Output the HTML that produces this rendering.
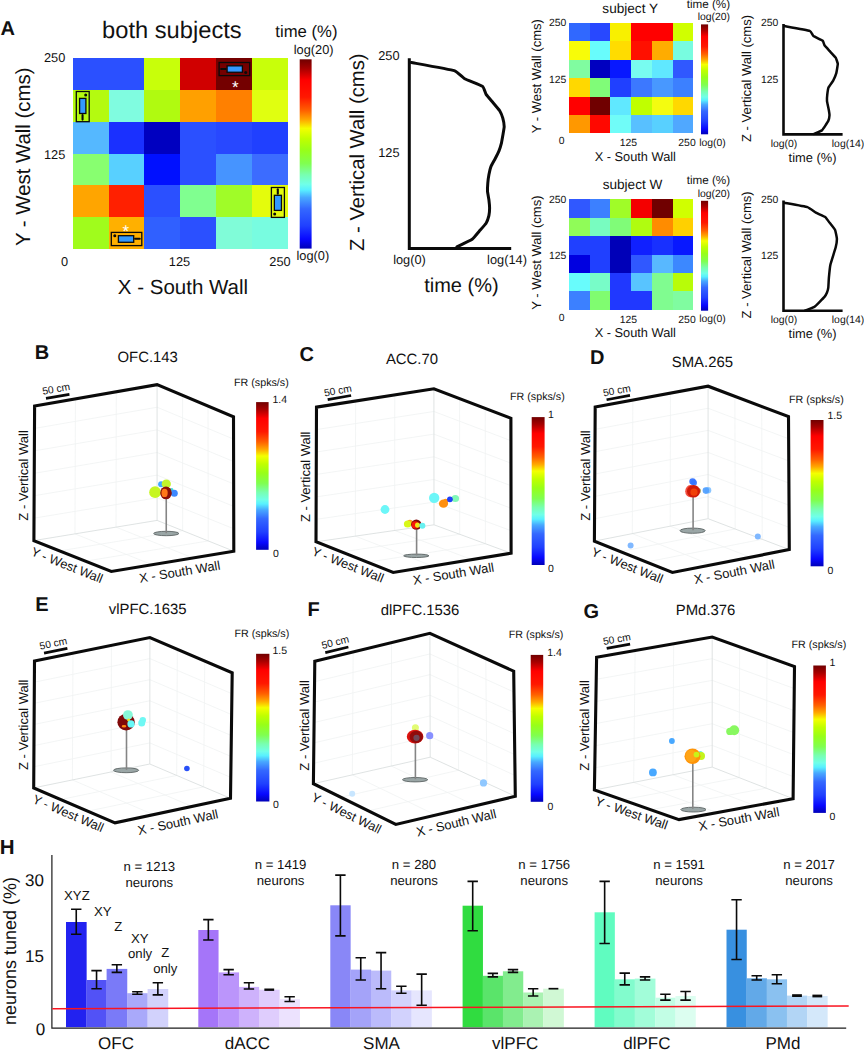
<!DOCTYPE html>
<html lang="en"><head><meta charset="utf-8"><title>Figure: spatial occupancy and tuning</title>
<style>html,body{margin:0;padding:0;background:#fff}svg{display:block}text{font-family:"Liberation Sans", sans-serif;text-rendering:geometricPrecision}</style></head><body>
<svg width="864" height="1050" viewBox="0 0 864 1050">
<defs>
<linearGradient id="jet" x1="0" y1="0" x2="0" y2="1">
<stop offset="0.0000" stop-color="#700000"/>
<stop offset="0.0500" stop-color="#a80000"/>
<stop offset="0.1100" stop-color="#ff0000"/>
<stop offset="0.2000" stop-color="#ff1800"/>
<stop offset="0.2700" stop-color="#ff6000"/>
<stop offset="0.3200" stop-color="#ffa800"/>
<stop offset="0.3650" stop-color="#f4ff00"/>
<stop offset="0.4200" stop-color="#c0ff00"/>
<stop offset="0.4800" stop-color="#98ff18"/>
<stop offset="0.5500" stop-color="#80ff50"/>
<stop offset="0.6100" stop-color="#78ffb0"/>
<stop offset="0.6600" stop-color="#70ffe8"/>
<stop offset="0.6900" stop-color="#58f0ff"/>
<stop offset="0.7300" stop-color="#48a8ff"/>
<stop offset="0.7900" stop-color="#3468ff"/>
<stop offset="0.8800" stop-color="#2040ff"/>
<stop offset="0.9500" stop-color="#0808ff"/>
<stop offset="1.0000" stop-color="#0000b8"/>
</linearGradient>
</defs>
<rect width="864" height="1050" fill="#fff"/>
<g id="panelA">
<text x="7.70" y="35.06" font-size="20" text-anchor="middle" font-weight="bold" fill="#111">A</text>
<g shape-rendering="crispEdges">
<rect x="73" y="58" width="36" height="32" fill="#2b50ff"/>
<rect x="109" y="58" width="35" height="32" fill="#2b50ff"/>
<rect x="144" y="58" width="36" height="32" fill="#c8ff0a"/>
<rect x="180" y="58" width="36" height="32" fill="#d00000"/>
<rect x="216" y="58" width="36" height="32" fill="#740000"/>
<rect x="252" y="58" width="36" height="32" fill="#c8ff0a"/>
<rect x="73" y="90" width="36" height="32" fill="#b4fa10"/>
<rect x="109" y="90" width="35" height="32" fill="#80fce0"/>
<rect x="144" y="90" width="36" height="32" fill="#b0fa10"/>
<rect x="180" y="90" width="36" height="32" fill="#ffa000"/>
<rect x="216" y="90" width="36" height="32" fill="#ff8000"/>
<rect x="252" y="90" width="36" height="32" fill="#e0ff10"/>
<rect x="73" y="122" width="36" height="32" fill="#55b8ff"/>
<rect x="109" y="122" width="35" height="32" fill="#1a30ff"/>
<rect x="144" y="122" width="36" height="32" fill="#0000c0"/>
<rect x="180" y="122" width="36" height="32" fill="#2b50ff"/>
<rect x="216" y="122" width="36" height="32" fill="#2848ff"/>
<rect x="252" y="122" width="36" height="32" fill="#2040ff"/>
<rect x="73" y="154" width="36" height="31" fill="#88ff70"/>
<rect x="109" y="154" width="35" height="31" fill="#58d0ff"/>
<rect x="144" y="154" width="36" height="31" fill="#0010ff"/>
<rect x="180" y="154" width="36" height="31" fill="#2b50ff"/>
<rect x="216" y="154" width="36" height="31" fill="#4694ff"/>
<rect x="252" y="154" width="36" height="31" fill="#3c6cff"/>
<rect x="73" y="185" width="36" height="32" fill="#ffa500"/>
<rect x="109" y="185" width="35" height="32" fill="#ff2000"/>
<rect x="144" y="185" width="36" height="32" fill="#2b50ff"/>
<rect x="180" y="185" width="36" height="32" fill="#80ff90"/>
<rect x="216" y="185" width="36" height="32" fill="#a0fc28"/>
<rect x="252" y="185" width="36" height="32" fill="#e4fc0c"/>
<rect x="73" y="217" width="36" height="32" fill="#a0fc1c"/>
<rect x="109" y="217" width="35" height="32" fill="#ffb000"/>
<rect x="144" y="217" width="36" height="32" fill="#3060ff"/>
<rect x="180" y="217" width="36" height="32" fill="#2b50ff"/>
<rect x="216" y="217" width="36" height="32" fill="#80fcd8"/>
<rect x="252" y="217" width="36" height="32" fill="#78fce0"/>
</g>
<text x="171.90" y="38.48" font-size="23.7" text-anchor="middle" fill="#111">both subjects</text>
<text x="306.40" y="36.98" font-size="16.7" text-anchor="middle" fill="#111">time (%)</text>
<text x="313.70" y="54.48" font-size="12.8" text-anchor="middle" fill="#111">log(20)</text>
<text x="312.80" y="260.18" font-size="12.8" text-anchor="middle" fill="#111">log(0)</text>
<rect x="299.7" y="59.3" width="11.9" height="189.3" fill="url(#jet)"/>
<text x="65.30" y="61.88" font-size="12.8" text-anchor="end" fill="#111">250</text>
<text x="65.30" y="158.88" font-size="12.8" text-anchor="end" fill="#111">125</text>
<text x="64.50" y="265.58" font-size="12.8" text-anchor="middle" fill="#111">0</text>
<text x="179.50" y="265.58" font-size="12.8" text-anchor="middle" fill="#111">125</text>
<text x="280.00" y="265.58" font-size="12.8" text-anchor="middle" fill="#111">250</text>
<text x="183.00" y="293.94" font-size="20.5" text-anchor="middle" fill="#111">X - South Wall</text>
<text x="23.00" y="164.10" font-size="20.4" text-anchor="middle" fill="#111" transform="rotate(-90.00 23.00 156.80)">Y - West Wall (cms)</text>
<rect x="219.10" y="62.50" width="30.60" height="13.10" fill="none" stroke="#0a0a0a" stroke-width="1.3"/>
<rect x="227.10" y="65.85" width="15.30" height="6.4" fill="#3399ff" stroke="#0a0a0a" stroke-width="1.3"/>
<line x1="221.20" y1="68.95" x2="225.70" y2="68.95" stroke="#0a0a0a" stroke-width="2.1" stroke-linecap="round"/>
<circle cx="245.70" cy="72.40" r="1.5" fill="#0a0a0a"/>
<rect x="76.30" y="91.50" width="12.90" height="30.20" fill="none" stroke="#0a0a0a" stroke-width="1.3"/>
<rect x="79.60" y="98.40" width="6.3" height="15.10" fill="#3399ff" stroke="#0a0a0a" stroke-width="1.3"/>
<line x1="82.55" y1="115.10" x2="82.55" y2="119.60" stroke="#0a0a0a" stroke-width="2.1" stroke-linecap="round"/>
<circle cx="85.70" cy="94.90" r="1.5" fill="#0a0a0a"/>
<rect x="111.30" y="232.40" width="30.50" height="13.20" fill="none" stroke="#0a0a0a" stroke-width="1.3"/>
<rect x="118.40" y="235.70" width="15.30" height="6.6" fill="#3399ff" stroke="#0a0a0a" stroke-width="1.3"/>
<line x1="135.10" y1="238.80" x2="139.70" y2="238.80" stroke="#0a0a0a" stroke-width="2.1" stroke-linecap="round"/>
<circle cx="114.80" cy="235.80" r="1.5" fill="#0a0a0a"/>
<rect x="271.40" y="187.50" width="13.00" height="29.90" fill="none" stroke="#0a0a0a" stroke-width="1.3"/>
<rect x="274.35" y="195.30" width="7.1" height="15.10" fill="#3399ff" stroke="#0a0a0a" stroke-width="1.3"/>
<line x1="277.80" y1="189.20" x2="277.80" y2="193.80" stroke="#0a0a0a" stroke-width="2.1" stroke-linecap="round"/>
<circle cx="274.70" cy="213.90" r="1.5" fill="#0a0a0a"/>
<text x="235.3" y="92.6" font-size="17" text-anchor="middle" fill="#fff">*</text>
<text x="125.8" y="236.5" font-size="17" text-anchor="middle" fill="#fff">*</text>
<path d="M409.30 58.30 L409.30 248.60 L511.20 248.60" fill="none" stroke="#0a0a0a" stroke-width="3.0" stroke-linejoin="miter" stroke-linecap="butt"/>
<path d="M411.40 62.50 C413.54 62.91 451.54 69.79 454.20 70.60 C456.86 71.41 463.18 77.91 464.60 78.70 C466.02 79.49 481.53 85.62 482.60 86.40 C483.68 87.19 485.59 93.59 486.10 94.40 C486.62 95.21 492.22 101.69 492.90 102.50 C493.58 103.31 499.20 109.92 499.70 110.70 C500.19 111.48 502.57 117.30 502.80 118.10 C503.03 118.90 504.19 125.86 504.20 126.70 C504.20 127.55 503.03 134.19 502.90 135.00 C502.76 135.81 501.70 142.00 501.50 142.80 C501.30 143.61 499.22 150.29 498.90 151.10 C498.57 151.91 495.39 158.24 495.00 159.00 C494.61 159.76 491.31 165.62 491.00 166.40 C490.69 167.19 489.06 173.86 488.90 174.70 C488.74 175.53 487.87 182.26 487.80 183.10 C487.73 183.94 487.44 190.57 487.50 191.40 C487.56 192.23 488.79 198.86 488.90 199.70 C489.00 200.53 489.60 207.30 489.60 208.10 C489.60 208.90 489.07 214.94 488.90 215.70 C488.72 216.46 486.59 222.52 486.10 223.30 C485.62 224.08 479.89 230.50 479.20 231.30 C478.50 232.10 473.31 238.52 472.20 239.30 C471.08 240.08 457.66 246.52 456.90 246.90" fill="none" stroke="#0a0a0a" stroke-width="3.0" stroke-linejoin="round" stroke-linecap="round"/>
<text x="399.60" y="59.58" font-size="12.8" text-anchor="end" fill="#111">250</text>
<text x="399.60" y="156.88" font-size="12.8" text-anchor="end" fill="#111">125</text>
<text x="409.50" y="264.18" font-size="12.8" text-anchor="middle" fill="#111">log(0)</text>
<text x="507.00" y="264.18" font-size="12.8" text-anchor="middle" fill="#111">log(14)</text>
<text x="461.40" y="292.16" font-size="20" text-anchor="middle" fill="#111">time (%)</text>
<text x="356.90" y="159.47" font-size="20.3" text-anchor="middle" fill="#111" transform="rotate(-90.00 356.90 152.20)">Z - Vertical Wall (cms)</text>
<g shape-rendering="crispEdges">
<rect x="569" y="23" width="21" height="18" fill="#3068ff"/>
<rect x="590" y="23" width="20" height="18" fill="#2848ff"/>
<rect x="610" y="23" width="21" height="18" fill="#f8f000"/>
<rect x="631" y="23" width="21" height="18" fill="#ff0000"/>
<rect x="652" y="23" width="21" height="18" fill="#ff0000"/>
<rect x="673" y="23" width="20" height="18" fill="#d0ff00"/>
<rect x="569" y="41" width="21" height="19" fill="#f8fc08"/>
<rect x="590" y="41" width="20" height="19" fill="#68fcfc"/>
<rect x="610" y="41" width="21" height="19" fill="#ffdc00"/>
<rect x="631" y="41" width="21" height="19" fill="#ff1000"/>
<rect x="652" y="41" width="21" height="19" fill="#ffac00"/>
<rect x="673" y="41" width="20" height="19" fill="#78fce0"/>
<rect x="569" y="60" width="21" height="18" fill="#80fca0"/>
<rect x="590" y="60" width="20" height="18" fill="#0000c0"/>
<rect x="610" y="60" width="21" height="18" fill="#0818ff"/>
<rect x="631" y="60" width="21" height="18" fill="#78fcf0"/>
<rect x="652" y="60" width="21" height="18" fill="#60e8ff"/>
<rect x="673" y="60" width="20" height="18" fill="#3058ff"/>
<rect x="569" y="78" width="21" height="19" fill="#ffd800"/>
<rect x="590" y="78" width="20" height="19" fill="#80fc78"/>
<rect x="610" y="78" width="21" height="19" fill="#2040ff"/>
<rect x="631" y="78" width="21" height="19" fill="#3c78ff"/>
<rect x="652" y="78" width="21" height="19" fill="#4898ff"/>
<rect x="673" y="78" width="20" height="19" fill="#3c80ff"/>
<rect x="569" y="97" width="21" height="18" fill="#ff0000"/>
<rect x="590" y="97" width="20" height="18" fill="#700000"/>
<rect x="610" y="97" width="21" height="18" fill="#60e8ff"/>
<rect x="631" y="97" width="21" height="18" fill="#c0ff00"/>
<rect x="652" y="97" width="21" height="18" fill="#f4fc10"/>
<rect x="673" y="97" width="20" height="18" fill="#ffd800"/>
<rect x="569" y="115" width="21" height="18" fill="#ff9800"/>
<rect x="590" y="115" width="20" height="18" fill="#ff0800"/>
<rect x="610" y="115" width="21" height="18" fill="#70fcf8"/>
<rect x="631" y="115" width="21" height="18" fill="#58c0ff"/>
<rect x="652" y="115" width="21" height="18" fill="#58d0ff"/>
<rect x="673" y="115" width="20" height="18" fill="#50a8ff"/>
</g>
<text x="630.20" y="12.77" font-size="13.6" text-anchor="middle" fill="#111">subject Y</text>
<text x="708.40" y="7.89" font-size="11.7" text-anchor="middle" fill="#111">time (%)</text>
<text x="713.90" y="20.32" font-size="10.4" text-anchor="middle" fill="#111">log(20)</text>
<text x="712.50" y="145.72" font-size="10.4" text-anchor="middle" fill="#111">log(0)</text>
<rect x="701.0" y="24.40" width="7.1" height="109.9" fill="url(#jet)"/>
<text x="566.40" y="26.12" font-size="10.4" text-anchor="end" fill="#111">250</text>
<text x="566.40" y="82.72" font-size="10.4" text-anchor="end" fill="#111">125</text>
<text x="561.70" y="144.32" font-size="10.4" text-anchor="middle" fill="#111">0</text>
<text x="628.30" y="146.12" font-size="10.4" text-anchor="middle" fill="#111">125</text>
<text x="687.00" y="146.12" font-size="10.4" text-anchor="middle" fill="#111">250</text>
<text x="635.30" y="160.98" font-size="12.8" text-anchor="middle" fill="#111">X - South Wall</text>
<text x="536.80" y="80.87" font-size="13.05" text-anchor="middle" fill="#111" transform="rotate(-90.00 536.80 76.20)">Y - West Wall (cms)</text>
<path d="M783.50 24.00 L783.50 134.40 L842.60 134.40" fill="none" stroke="#0a0a0a" stroke-width="2.6" stroke-linejoin="miter" stroke-linecap="butt"/>
<path d="M784.30 26.10 C785.57 26.34 808.25 30.40 809.70 30.90 C811.16 31.40 812.75 35.61 813.40 36.10 C814.05 36.59 822.15 40.34 822.70 40.80 C823.25 41.26 824.16 44.79 824.50 45.30 C824.84 45.80 828.94 50.28 829.50 50.90 C830.06 51.52 835.29 57.05 835.70 57.70 C836.12 58.35 837.77 63.12 837.80 63.90 C837.83 64.67 836.53 72.37 836.30 73.20 C836.07 74.03 833.59 79.89 833.20 80.60 C832.81 81.31 828.79 86.72 828.50 87.40 C828.21 88.09 827.38 93.61 827.30 94.30 C827.22 94.98 826.92 100.29 827.00 101.10 C827.08 101.91 828.77 109.69 828.90 110.40 C829.02 111.11 829.53 114.77 829.50 115.30 C829.47 115.83 828.67 120.16 828.30 120.90 C827.93 121.65 822.82 129.55 822.10 130.20 C821.38 130.85 814.40 133.72 814.00 133.90" fill="none" stroke="#0a0a0a" stroke-width="2.5" stroke-linejoin="round" stroke-linecap="round"/>
<text x="778.40" y="26.12" font-size="10.4" text-anchor="end" fill="#111">250</text>
<text x="778.40" y="82.72" font-size="10.4" text-anchor="end" fill="#111">125</text>
<text x="784.00" y="146.72" font-size="10.4" text-anchor="middle" fill="#111">log(0)</text>
<text x="848.00" y="146.72" font-size="10.4" text-anchor="middle" fill="#111">log(14)</text>
<text x="812.60" y="161.62" font-size="12.9" text-anchor="middle" fill="#111">time (%)</text>
<text x="746.40" y="83.17" font-size="13.05" text-anchor="middle" fill="#111" transform="rotate(-90.00 746.40 78.50)">Z - Vertical Wall (cms)</text>
<g shape-rendering="crispEdges">
<rect x="569" y="199" width="21" height="19" fill="#3058ff"/>
<rect x="590" y="199" width="20" height="19" fill="#3c80ff"/>
<rect x="610" y="199" width="21" height="19" fill="#a0fc28"/>
<rect x="631" y="199" width="21" height="19" fill="#f40000"/>
<rect x="652" y="199" width="21" height="19" fill="#700000"/>
<rect x="673" y="199" width="20" height="19" fill="#d0ff00"/>
<rect x="569" y="218" width="21" height="18" fill="#90fc58"/>
<rect x="590" y="218" width="20" height="18" fill="#78fcc0"/>
<rect x="610" y="218" width="21" height="18" fill="#80fc78"/>
<rect x="631" y="218" width="21" height="18" fill="#b0fc10"/>
<rect x="652" y="218" width="21" height="18" fill="#ff8c00"/>
<rect x="673" y="218" width="20" height="18" fill="#ffd000"/>
<rect x="569" y="236" width="21" height="19" fill="#2040ff"/>
<rect x="590" y="236" width="20" height="19" fill="#2040ff"/>
<rect x="610" y="236" width="21" height="19" fill="#0000b8"/>
<rect x="631" y="236" width="21" height="19" fill="#1020ff"/>
<rect x="652" y="236" width="21" height="19" fill="#1830ff"/>
<rect x="673" y="236" width="20" height="19" fill="#0818ff"/>
<rect x="569" y="255" width="21" height="18" fill="#0000e0"/>
<rect x="590" y="255" width="20" height="18" fill="#2040ff"/>
<rect x="610" y="255" width="21" height="18" fill="#0000b8"/>
<rect x="631" y="255" width="21" height="18" fill="#3058ff"/>
<rect x="652" y="255" width="21" height="18" fill="#58b8ff"/>
<rect x="673" y="255" width="20" height="18" fill="#3c88ff"/>
<rect x="569" y="273" width="21" height="18" fill="#68fcfc"/>
<rect x="590" y="273" width="20" height="18" fill="#78fcc8"/>
<rect x="610" y="273" width="21" height="18" fill="#2038ff"/>
<rect x="631" y="273" width="21" height="18" fill="#58c4ff"/>
<rect x="652" y="273" width="21" height="18" fill="#80fc90"/>
<rect x="673" y="273" width="20" height="18" fill="#b8fc08"/>
<rect x="569" y="291" width="21" height="19" fill="#3c80ff"/>
<rect x="590" y="291" width="20" height="19" fill="#80fc70"/>
<rect x="610" y="291" width="21" height="19" fill="#2038ff"/>
<rect x="631" y="291" width="21" height="19" fill="#2038ff"/>
<rect x="652" y="291" width="21" height="19" fill="#80fc90"/>
<rect x="673" y="291" width="20" height="19" fill="#80fca0"/>
</g>
<text x="632.50" y="189.17" font-size="13.6" text-anchor="middle" fill="#111">subject W</text>
<text x="708.40" y="184.29" font-size="11.7" text-anchor="middle" fill="#111">time (%)</text>
<text x="713.90" y="196.72" font-size="10.4" text-anchor="middle" fill="#111">log(20)</text>
<text x="712.50" y="322.12" font-size="10.4" text-anchor="middle" fill="#111">log(0)</text>
<rect x="701.0" y="200.80" width="7.1" height="109.9" fill="url(#jet)"/>
<text x="566.40" y="202.52" font-size="10.4" text-anchor="end" fill="#111">250</text>
<text x="566.40" y="259.12" font-size="10.4" text-anchor="end" fill="#111">125</text>
<text x="561.70" y="320.72" font-size="10.4" text-anchor="middle" fill="#111">0</text>
<text x="628.30" y="322.52" font-size="10.4" text-anchor="middle" fill="#111">125</text>
<text x="687.00" y="322.52" font-size="10.4" text-anchor="middle" fill="#111">250</text>
<text x="635.30" y="337.38" font-size="12.8" text-anchor="middle" fill="#111">X - South Wall</text>
<text x="536.80" y="257.27" font-size="13.05" text-anchor="middle" fill="#111" transform="rotate(-90.00 536.80 252.60)">Y - West Wall (cms)</text>
<path d="M783.50 200.40 L783.50 310.80 L842.60 310.80" fill="none" stroke="#0a0a0a" stroke-width="2.6" stroke-linejoin="miter" stroke-linecap="butt"/>
<path d="M784.30 202.80 C785.45 203.02 805.82 206.60 807.40 207.10 C808.98 207.59 815.01 212.20 815.90 212.70 C816.79 213.19 824.52 216.50 825.20 217.00 C825.88 217.50 829.00 221.95 829.50 222.60 C830.00 223.25 834.73 229.19 835.10 230.00 C835.47 230.81 836.87 237.83 836.90 238.70 C836.93 239.56 836.03 246.00 835.70 247.30 C835.38 248.60 830.74 263.18 830.40 264.70 C830.06 266.22 829.00 276.56 828.90 277.70 C828.79 278.84 828.39 286.86 828.30 287.60 C828.20 288.34 827.19 292.04 827.00 292.50 C826.81 292.96 825.12 296.19 824.50 296.90 C823.88 297.61 815.56 306.12 814.60 306.80 C813.64 307.48 805.76 310.31 805.30 310.50" fill="none" stroke="#0a0a0a" stroke-width="2.5" stroke-linejoin="round" stroke-linecap="round"/>
<text x="778.40" y="202.52" font-size="10.4" text-anchor="end" fill="#111">250</text>
<text x="778.40" y="259.12" font-size="10.4" text-anchor="end" fill="#111">125</text>
<text x="784.00" y="323.12" font-size="10.4" text-anchor="middle" fill="#111">log(0)</text>
<text x="848.00" y="323.12" font-size="10.4" text-anchor="middle" fill="#111">log(14)</text>
<text x="812.60" y="338.02" font-size="12.9" text-anchor="middle" fill="#111">time (%)</text>
<text x="746.40" y="259.57" font-size="13.05" text-anchor="middle" fill="#111" transform="rotate(-90.00 746.40 254.90)">Z - Vertical Wall (cms)</text>
</g>
<g id="panelB">
<path d="M75.43 398.87 L74.97 533.87 M116.27 391.73 L116.03 527.13 M34.48 428.43 L157.10 407.23 M34.37 450.87 L157.10 429.87 M34.25 473.30 L157.10 452.50 M34.13 495.73 L157.10 475.13 M34.02 518.17 L157.10 497.77 M182.57 395.30 L182.67 530.67 M208.03 406.00 L208.23 540.93 M157.10 407.23 L233.55 439.12 M157.10 429.87 L233.60 461.53 M157.10 452.50 L233.65 483.95 M157.10 475.13 L233.70 506.37 M157.10 497.77 L233.75 528.78 M74.97 533.87 L152.13 564.73 M59.70 550.90 L182.67 530.67 M116.03 527.13 L192.97 557.97 M85.50 561.20 L208.23 540.93" stroke="#f0f3f3" stroke-width="0.8" fill="none"/>
<path d="M157.10 384.60 L157.10 520.40 M33.90 540.60 L157.10 520.40 L233.80 551.20" stroke="#dbe0e0" stroke-width="0.9" fill="none"/>
<ellipse cx="166.25" cy="533.50" rx="12.6" ry="2.2" fill="#9aa6a6" stroke="#5c6464" stroke-width="0.9"/>
<line x1="166.25" y1="498.50" x2="166.25" y2="533.20" stroke="#858585" stroke-width="1.6"/>
<ellipse cx="155.10" cy="492.20" rx="5.90" ry="5.90" fill="#c6f622"/>
<ellipse cx="161.10" cy="484.30" rx="3.00" ry="3.00" fill="#40a8ff"/>
<ellipse cx="166.30" cy="483.90" rx="4.60" ry="4.50" fill="#c2f42a"/>
<ellipse cx="171.80" cy="489.60" rx="1.60" ry="1.60" fill="#40dce0"/>
<ellipse cx="174.30" cy="493.30" rx="3.50" ry="3.50" fill="#3c88ff"/>
<ellipse cx="166.00" cy="492.90" rx="5.80" ry="6.40" fill="#8a1008"/>
<ellipse cx="164.60" cy="492.90" rx="3.10" ry="4.20" fill="#ff7818"/>
<path d="M34.60 406.00 L157.10 384.60 L233.50 416.70 L233.80 551.20 L111.30 571.50 L33.90 540.60 Z" fill="none" stroke="#0a0a0a" stroke-width="3.1" stroke-linejoin="miter" stroke-linecap="butt"/>
<line x1="45.98" y1="398.40" x2="69.42" y2="394.30" stroke="#0a0a0a" stroke-width="2.7"/>
<text x="56.10" y="392.29" font-size="10.3" text-anchor="middle" fill="#111" transform="rotate(-9.91 56.10 388.60)">50 cm</text>
<text x="23.20" y="480.05" font-size="13.0" text-anchor="middle" fill="#111" transform="rotate(-90.00 23.20 475.40)">Z - Vertical Wall</text>
<text x="67.10" y="569.45" font-size="12.7" text-anchor="middle" fill="#111" transform="rotate(21.76 67.10 564.90)">Y - West Wall</text>
<text x="179.60" y="576.22" font-size="12.9" text-anchor="middle" fill="#111" transform="rotate(-9.41 179.60 571.60)">X - South Wall</text>
<text x="147.70" y="362.33" font-size="14.9" text-anchor="middle" fill="#111">OFC.143</text>
<text x="42.00" y="358.96" font-size="20" text-anchor="middle" font-weight="bold" fill="#111">B</text>
<rect x="256.10" y="402.10" width="12.50" height="147.70" fill="url(#jet)"/>
<text x="261.40" y="385.83" font-size="10.7" text-anchor="middle" fill="#111">FR (spks/s)</text>
<text x="272.40" y="403.16" font-size="10.5" text-anchor="start" fill="#111">1.4</text>
<text x="273.00" y="556.96" font-size="10.5" text-anchor="start" fill="#111">0</text>
</g>
<g id="panelC">
<path d="M355.63 401.00 L355.33 536.13 M394.77 394.90 L394.67 530.47 M316.42 429.55 L433.92 411.47 M316.33 452.00 L433.93 434.13 M316.25 474.45 L433.95 456.80 M316.17 496.90 L433.97 479.47 M316.08 519.35 L433.98 502.13 M459.57 398.60 L459.70 534.27 M485.23 408.40 L485.40 543.73 M433.92 411.47 L510.93 440.70 M433.93 434.13 L510.97 463.20 M433.95 456.80 L511.00 485.70 M433.97 479.47 L511.03 508.20 M433.98 502.13 L511.07 530.70 M355.33 536.13 L432.50 566.07 M341.73 552.03 L459.70 534.27 M394.67 530.47 L471.80 559.63 M367.47 562.27 L485.40 543.73" stroke="#f0f3f3" stroke-width="0.8" fill="none"/>
<path d="M433.90 388.80 L434.00 524.80 M316.00 541.80 L434.00 524.80 L511.10 553.20" stroke="#dbe0e0" stroke-width="0.9" fill="none"/>
<ellipse cx="416.30" cy="555.80" rx="12.6" ry="1.7" fill="#9aa6a6" stroke="#5c6464" stroke-width="0.9"/>
<line x1="416.60" y1="529.50" x2="416.60" y2="555.40" stroke="#858585" stroke-width="1.6"/>
<ellipse cx="385.00" cy="509.50" rx="4.40" ry="4.40" fill="#6cf6f8"/>
<ellipse cx="434.20" cy="497.90" rx="5.20" ry="5.20" fill="#6cf6f8"/>
<ellipse cx="455.30" cy="498.50" rx="3.80" ry="3.50" fill="#80f8b8"/>
<ellipse cx="443.50" cy="503.70" rx="4.60" ry="4.10" fill="#ff9010"/>
<ellipse cx="445.60" cy="501.20" rx="2.40" ry="2.40" fill="#ff9010"/>
<ellipse cx="449.90" cy="499.30" rx="2.90" ry="2.90" fill="#2040f8"/>
<ellipse cx="409.90" cy="522.80" rx="3.00" ry="3.00" fill="#ffa020"/>
<ellipse cx="407.60" cy="524.00" rx="3.70" ry="3.50" fill="#d8f818"/>
<ellipse cx="416.30" cy="524.60" rx="5.20" ry="5.20" fill="#800808"/>
<ellipse cx="415.10" cy="524.90" rx="3.50" ry="3.60" fill="#f81808"/>
<ellipse cx="417.50" cy="525.10" rx="2.50" ry="2.60" fill="#f0e818"/>
<ellipse cx="422.40" cy="525.70" rx="3.00" ry="3.00" fill="#68f0f0"/>
<path d="M316.50 407.10 L433.90 388.80 L510.90 418.20 L511.10 553.20 L393.20 572.50 L316.00 541.80 Z" fill="none" stroke="#0a0a0a" stroke-width="3.1" stroke-linejoin="miter" stroke-linecap="butt"/>
<line x1="327.68" y1="399.64" x2="351.12" y2="395.46" stroke="#0a0a0a" stroke-width="2.7"/>
<text x="337.80" y="393.99" font-size="10.3" text-anchor="middle" fill="#111" transform="rotate(-10.10 337.80 390.30)">50 cm</text>
<text x="304.90" y="481.45" font-size="13.0" text-anchor="middle" fill="#111" transform="rotate(-90.00 304.90 476.80)">Z - Vertical Wall</text>
<text x="348.00" y="569.05" font-size="12.7" text-anchor="middle" fill="#111" transform="rotate(21.69 348.00 564.50)">Y - West Wall</text>
<text x="453.40" y="578.12" font-size="12.9" text-anchor="middle" fill="#111" transform="rotate(-9.30 453.40 573.50)">X - South Wall</text>
<text x="412.00" y="364.33" font-size="14.9" text-anchor="middle" fill="#111">ACC.70</text>
<text x="306.80" y="361.16" font-size="20" text-anchor="middle" font-weight="bold" fill="#111">C</text>
<rect x="531.70" y="417.10" width="12.90" height="147.90" fill="url(#jet)"/>
<text x="537.40" y="400.13" font-size="10.7" text-anchor="middle" fill="#111">FR (spks/s)</text>
<text x="548.00" y="417.76" font-size="10.5" text-anchor="start" fill="#111">1</text>
<text x="548.00" y="571.76" font-size="10.5" text-anchor="start" fill="#111">0</text>
</g>
<g id="panelD">
<path d="M632.83 400.07 L632.30 533.63 M670.47 393.13 L670.20 526.17 M595.07 429.35 L708.10 408.28 M594.93 451.70 L708.10 430.37 M594.80 474.05 L708.10 452.45 M594.67 496.40 L708.10 474.53 M594.53 518.75 L708.10 496.62 M734.90 396.33 L735.17 529.00 M761.70 406.47 L762.23 539.30 M708.10 408.28 L788.63 438.77 M708.10 430.37 L788.77 460.93 M708.10 452.45 L788.90 483.10 M708.10 474.53 L789.03 505.27 M708.10 496.62 L789.17 527.43 M632.30 533.63 L711.37 564.87 M620.40 551.57 L735.17 529.00 M670.20 526.17 L750.33 557.23 M646.40 562.03 L762.23 539.30" stroke="#f0f3f3" stroke-width="0.8" fill="none"/>
<path d="M708.10 386.20 L708.10 518.70 M594.40 541.10 L708.10 518.70 L789.30 549.60" stroke="#dbe0e0" stroke-width="0.9" fill="none"/>
<ellipse cx="692.60" cy="530.70" rx="12.6" ry="2.6" fill="#9aa6a6" stroke="#5c6464" stroke-width="0.9"/>
<line x1="693.10" y1="497.00" x2="693.10" y2="530.20" stroke="#858585" stroke-width="1.6"/>
<ellipse cx="692.60" cy="481.50" rx="3.30" ry="3.30" fill="#3070ff" fill-opacity="0.92"/>
<ellipse cx="694.00" cy="482.80" rx="3.00" ry="3.00" fill="#3474ff" fill-opacity="0.9"/>
<ellipse cx="708.00" cy="490.20" rx="3.30" ry="3.30" fill="#80c0ff" fill-opacity="0.9"/>
<ellipse cx="705.90" cy="490.60" rx="3.30" ry="3.30" fill="#50a0ff" fill-opacity="0.92"/>
<ellipse cx="699.30" cy="490.80" rx="1.60" ry="2.60" fill="#8a7a20" fill-opacity="0.8"/>
<ellipse cx="690.40" cy="491.20" rx="5.20" ry="6.10" fill="#f03020" fill-opacity="0.85"/>
<ellipse cx="693.50" cy="491.30" rx="6.50" ry="6.30" fill="#d01a08"/>
<ellipse cx="694.00" cy="492.20" rx="3.60" ry="3.60" fill="#f04008"/>
<ellipse cx="630.60" cy="545.60" rx="3.00" ry="3.00" fill="#80b8ff"/>
<ellipse cx="757.80" cy="536.60" rx="3.00" ry="3.00" fill="#80b8ff"/>
<path d="M595.20 407.00 L708.10 386.20 L788.50 416.60 L789.30 549.60 L672.40 572.50 L594.40 541.10 Z" fill="none" stroke="#0a0a0a" stroke-width="3.1" stroke-linejoin="miter" stroke-linecap="butt"/>
<line x1="606.57" y1="399.71" x2="629.98" y2="395.39" stroke="#0a0a0a" stroke-width="2.7"/>
<text x="616.80" y="393.99" font-size="10.3" text-anchor="middle" fill="#111" transform="rotate(-10.44 616.80 390.30)">50 cm</text>
<text x="585.20" y="480.15" font-size="13.0" text-anchor="middle" fill="#111" transform="rotate(-90.00 585.20 475.50)">Z - Vertical Wall</text>
<text x="627.30" y="569.75" font-size="12.7" text-anchor="middle" fill="#111" transform="rotate(21.93 627.30 565.20)">Y - West Wall</text>
<text x="734.20" y="576.32" font-size="12.9" text-anchor="middle" fill="#111" transform="rotate(-11.08 734.20 571.70)">X - South Wall</text>
<text x="702.40" y="367.43" font-size="14.9" text-anchor="middle" fill="#111">SMA.265</text>
<text x="597.20" y="363.66" font-size="20" text-anchor="middle" font-weight="bold" fill="#111">D</text>
<rect x="810.60" y="420.00" width="12.90" height="146.30" fill="url(#jet)"/>
<text x="816.40" y="402.73" font-size="10.7" text-anchor="middle" fill="#111">FR (spks/s)</text>
<text x="827.40" y="419.26" font-size="10.5" text-anchor="start" fill="#111">1.5</text>
<text x="827.60" y="574.06" font-size="10.5" text-anchor="start" fill="#111">0</text>
</g>
<g id="panelE">
<path d="M72.97 653.17 L72.40 779.93 M111.43 645.33 L111.10 771.97 M34.37 682.15 L149.88 658.58 M34.23 703.30 L149.87 679.67 M34.10 724.45 L149.85 700.75 M33.97 745.60 L149.83 721.83 M33.83 766.75 L149.82 742.92 M177.33 649.27 L176.70 775.43 M204.77 661.03 L203.60 786.87 M149.88 658.58 L231.92 693.72 M149.87 679.67 L231.63 714.63 M149.85 700.75 L231.35 735.55 M149.83 721.83 L231.07 756.47 M149.82 742.92 L230.78 777.38 M72.40 779.93 L153.50 814.63 M60.80 799.53 L176.70 775.43 M111.10 771.97 L192.00 806.47 M87.90 811.17 L203.60 786.87" stroke="#f0f3f3" stroke-width="0.8" fill="none"/>
<path d="M149.90 637.50 L149.80 764.00 M33.70 787.90 L149.80 764.00 L230.50 798.30" stroke="#dbe0e0" stroke-width="0.9" fill="none"/>
<ellipse cx="126.10" cy="770.30" rx="12.6" ry="2.4" fill="#9aa6a6" stroke="#5c6464" stroke-width="0.9"/>
<line x1="126.50" y1="729.50" x2="126.50" y2="769.80" stroke="#858585" stroke-width="1.6"/>
<ellipse cx="126.10" cy="722.20" rx="8.70" ry="8.30" fill="#800808"/>
<ellipse cx="124.00" cy="726.20" rx="2.30" ry="1.30" fill="#ff8810"/>
<ellipse cx="127.90" cy="715.00" rx="4.90" ry="4.80" fill="#88f8d8"/>
<ellipse cx="128.60" cy="719.90" rx="1.50" ry="1.50" fill="#f0e020"/>
<ellipse cx="131.00" cy="723.90" rx="3.60" ry="3.60" fill="#68f8f8"/>
<ellipse cx="142.80" cy="720.10" rx="3.20" ry="3.20" fill="#70f8f4"/>
<ellipse cx="141.70" cy="722.90" rx="3.50" ry="3.50" fill="#70f8f4"/>
<ellipse cx="186.90" cy="768.50" rx="2.80" ry="2.80" fill="#2850f8"/>
<path d="M34.50 661.00 L149.90 637.50 L232.20 672.80 L230.50 798.30 L115.00 822.80 L33.70 787.90 Z" fill="none" stroke="#0a0a0a" stroke-width="3.1" stroke-linejoin="miter" stroke-linecap="butt"/>
<line x1="44.04" y1="653.15" x2="67.36" y2="648.40" stroke="#0a0a0a" stroke-width="2.7"/>
<text x="53.30" y="646.99" font-size="10.3" text-anchor="middle" fill="#111" transform="rotate(-11.51 53.30 643.30)">50 cm</text>
<text x="23.00" y="729.45" font-size="13.0" text-anchor="middle" fill="#111" transform="rotate(-90.00 23.00 724.80)">Z - Vertical Wall</text>
<text x="68.30" y="817.75" font-size="12.7" text-anchor="middle" fill="#111" transform="rotate(23.23 68.30 813.20)">Y - West Wall</text>
<text x="177.90" y="826.72" font-size="12.9" text-anchor="middle" fill="#111" transform="rotate(-11.98 177.90 822.10)">X - South Wall</text>
<text x="147.70" y="613.83" font-size="14.9" text-anchor="middle" fill="#111">vlPFC.1635</text>
<text x="42.00" y="610.96" font-size="20" text-anchor="middle" font-weight="bold" fill="#111">E</text>
<rect x="256.10" y="653.80" width="13.30" height="147.70" fill="url(#jet)"/>
<text x="261.90" y="636.83" font-size="10.7" text-anchor="middle" fill="#111">FR (spks/s)</text>
<text x="272.40" y="654.16" font-size="10.5" text-anchor="start" fill="#111">1.5</text>
<text x="273.00" y="807.96" font-size="10.5" text-anchor="start" fill="#111">0</text>
</g>
<g id="panelF">
<path d="M353.17 651.97 L352.33 774.87 M391.53 642.63 L391.27 766.03 M314.57 681.70 L429.95 653.95 M314.33 702.10 L430.00 674.60 M314.10 722.50 L430.05 695.25 M313.87 742.90 L430.10 715.90 M313.63 763.30 L430.15 736.55 M457.83 645.93 L458.57 770.23 M485.77 658.57 L486.93 783.27 M429.95 653.95 L513.97 692.05 M430.00 674.60 L514.23 712.90 M430.05 695.25 L514.50 733.75 M430.10 715.90 L514.77 754.60 M430.15 736.55 L515.03 775.45 M352.33 774.87 L435.63 815.03 M340.87 797.27 L458.57 770.23 M391.27 766.03 L475.47 805.67 M368.33 810.83 L486.93 783.27" stroke="#f0f3f3" stroke-width="0.8" fill="none"/>
<path d="M429.90 633.30 L430.20 757.20 M313.40 783.70 L430.20 757.20 L515.30 796.30" stroke="#dbe0e0" stroke-width="0.9" fill="none"/>
<ellipse cx="415.10" cy="779.70" rx="12.6" ry="2.2" fill="#9aa6a6" stroke="#5c6464" stroke-width="0.9"/>
<line x1="415.40" y1="742.50" x2="415.40" y2="779.20" stroke="#858585" stroke-width="1.6"/>
<ellipse cx="415.40" cy="727.80" rx="3.50" ry="3.50" fill="#e2fc74"/>
<ellipse cx="415.10" cy="736.70" rx="8.30" ry="6.90" fill="#dc1410"/>
<ellipse cx="416.20" cy="736.90" rx="6.60" ry="6.20" fill="#900c0c"/>
<ellipse cx="416.50" cy="737.80" rx="3.10" ry="3.10" fill="#704858"/>
<ellipse cx="429.70" cy="735.70" rx="3.60" ry="3.60" fill="#8890ff"/>
<ellipse cx="352.20" cy="793.80" rx="3.00" ry="3.00" fill="#c8e6ff"/>
<ellipse cx="483.50" cy="782.90" rx="3.60" ry="3.60" fill="#90c8ff"/>
<path d="M314.80 661.30 L429.90 633.30 L513.70 671.20 L515.30 796.30 L395.80 824.40 L313.40 783.70 Z" fill="none" stroke="#0a0a0a" stroke-width="3.1" stroke-linejoin="miter" stroke-linecap="butt"/>
<line x1="325.29" y1="652.66" x2="348.41" y2="647.04" stroke="#0a0a0a" stroke-width="2.7"/>
<text x="335.20" y="645.69" font-size="10.3" text-anchor="middle" fill="#111" transform="rotate(-13.67 335.20 642.00)">50 cm</text>
<text x="304.00" y="730.05" font-size="13.0" text-anchor="middle" fill="#111" transform="rotate(-90.00 304.00 725.40)">Z - Vertical Wall</text>
<text x="346.50" y="817.65" font-size="12.7" text-anchor="middle" fill="#111" transform="rotate(26.29 346.50 813.10)">Y - West Wall</text>
<text x="456.20" y="827.22" font-size="12.9" text-anchor="middle" fill="#111" transform="rotate(-13.23 456.20 822.60)">X - South Wall</text>
<text x="420.10" y="615.43" font-size="14.9" text-anchor="middle" fill="#111">dlPFC.1536</text>
<text x="313.70" y="616.16" font-size="20" text-anchor="middle" font-weight="bold" fill="#111">F</text>
<rect x="530.70" y="654.90" width="12.50" height="146.90" fill="url(#jet)"/>
<text x="536.10" y="638.23" font-size="10.7" text-anchor="middle" fill="#111">FR (spks/s)</text>
<text x="547.20" y="655.56" font-size="10.5" text-anchor="start" fill="#111">1.4</text>
<text x="547.60" y="809.76" font-size="10.5" text-anchor="start" fill="#111">0</text>
</g>
<g id="panelG">
<path d="M635.13 650.47 L633.67 782.37 M673.67 643.73 L672.93 774.73 M596.23 679.33 L712.20 658.68 M595.87 701.47 L712.20 680.37 M595.50 723.60 L712.20 702.05 M595.13 745.73 L712.20 723.73 M594.77 767.87 L712.20 745.42 M739.63 646.83 L739.17 777.63 M767.07 656.67 L766.13 788.17 M712.20 658.68 L794.27 688.53 M712.20 680.37 L794.03 710.57 M712.20 702.05 L793.80 732.60 M712.20 723.73 L793.57 754.63 M712.20 745.42 L793.33 776.67 M633.67 782.37 L717.03 812.63 M622.60 799.87 L739.17 777.63 M672.93 774.73 L755.07 805.67 M650.80 809.73 L766.13 788.17" stroke="#f0f3f3" stroke-width="0.8" fill="none"/>
<path d="M712.20 637.00 L712.20 767.10 M594.40 790.00 L712.20 767.10 L793.10 798.70" stroke="#dbe0e0" stroke-width="0.9" fill="none"/>
<ellipse cx="693.40" cy="809.60" rx="12.6" ry="2.4" fill="#9aa6a6" stroke="#5c6464" stroke-width="0.9"/>
<line x1="692.80" y1="762.50" x2="692.80" y2="808.80" stroke="#858585" stroke-width="1.6"/>
<ellipse cx="729.90" cy="731.40" rx="3.70" ry="3.70" fill="#88f860"/>
<ellipse cx="734.20" cy="730.30" rx="5.00" ry="5.00" fill="#88f860"/>
<ellipse cx="671.90" cy="741.00" rx="2.90" ry="2.90" fill="#48a8ff"/>
<ellipse cx="652.90" cy="772.40" rx="3.90" ry="3.90" fill="#48a8ff"/>
<ellipse cx="700.30" cy="753.60" rx="2.60" ry="2.60" fill="#70f0d0"/>
<ellipse cx="701.10" cy="756.00" rx="3.90" ry="3.90" fill="#c4f41c"/>
<ellipse cx="692.50" cy="756.30" rx="8.00" ry="7.80" fill="#ff9408"/>
<ellipse cx="691.20" cy="756.00" rx="5.60" ry="6.20" fill="#ffa416"/>
<ellipse cx="696.50" cy="754.60" rx="2.90" ry="2.90" fill="#c8f418"/>
<path d="M596.60 657.20 L712.20 637.00 L794.50 666.50 L793.10 798.70 L679.00 819.60 L594.40 790.00 Z" fill="none" stroke="#0a0a0a" stroke-width="3.1" stroke-linejoin="miter" stroke-linecap="butt"/>
<line x1="606.69" y1="648.30" x2="630.11" y2="644.05" stroke="#0a0a0a" stroke-width="2.7"/>
<text x="616.80" y="642.54" font-size="10.3" text-anchor="middle" fill="#111" transform="rotate(-10.30 616.80 638.85)">50 cm</text>
<text x="584.00" y="730.05" font-size="13.0" text-anchor="middle" fill="#111" transform="rotate(-90.00 584.00 725.40)">Z - Vertical Wall</text>
<text x="631.60" y="817.45" font-size="12.7" text-anchor="middle" fill="#111" transform="rotate(19.28 631.60 812.90)">Y - West Wall</text>
<text x="738.90" y="823.42" font-size="12.9" text-anchor="middle" fill="#111" transform="rotate(-10.38 738.90 818.80)">X - South Wall</text>
<text x="705.60" y="614.73" font-size="14.9" text-anchor="middle" fill="#111">PMd.376</text>
<text x="591.20" y="617.56" font-size="20" text-anchor="middle" font-weight="bold" fill="#111">G</text>
<rect x="813.30" y="665.50" width="12.60" height="147.40" fill="url(#jet)"/>
<text x="818.90" y="648.23" font-size="10.7" text-anchor="middle" fill="#111">FR (spks/s)</text>
<text x="829.60" y="665.86" font-size="10.5" text-anchor="start" fill="#111">1</text>
<text x="829.60" y="820.06" font-size="10.5" text-anchor="start" fill="#111">0</text>
</g>
<g id="panelH">
<text x="7.20" y="854.34" font-size="20.5" text-anchor="middle" font-weight="bold" fill="#111">H</text>
<rect x="66.00" y="922.00" width="20.65" height="105.20" fill="#2222f0"/>
<rect x="86.50" y="980.00" width="20.25" height="47.20" fill="#5252f6"/>
<rect x="106.60" y="968.90" width="20.65" height="58.30" fill="#7a7af8"/>
<rect x="127.10" y="993.20" width="20.65" height="34.00" fill="#a9a9fa"/>
<rect x="147.60" y="989.00" width="20.65" height="38.20" fill="#d2d2fc"/>
<path d="M76.25 909.20 V934.20 M71.05 909.20 H81.45 M71.05 934.20 H81.45" stroke="#0a0a0a" stroke-width="1.6" fill="none"/>
<path d="M96.55 970.60 V988.70 M91.35 970.60 H101.75 M91.35 988.70 H101.75" stroke="#0a0a0a" stroke-width="1.6" fill="none"/>
<path d="M116.85 964.70 V972.40 M111.65 964.70 H122.05 M111.65 972.40 H122.05" stroke="#0a0a0a" stroke-width="1.6" fill="none"/>
<path d="M137.35 991.80 V994.20 M132.15 991.80 H142.55 M132.15 994.20 H142.55" stroke="#0a0a0a" stroke-width="1.6" fill="none"/>
<path d="M157.85 982.80 V994.90 M152.65 982.80 H163.05 M152.65 994.90 H163.05" stroke="#0a0a0a" stroke-width="1.6" fill="none"/>
<text x="116.00" y="1049.29" font-size="17" text-anchor="middle" fill="#111">OFC</text>
<text x="149.30" y="870.93" font-size="13.2" text-anchor="middle" fill="#111">n = 1213</text>
<text x="149.30" y="886.83" font-size="13.2" text-anchor="middle" fill="#111">neurons</text>
<rect x="198.30" y="930.00" width="20.25" height="97.20" fill="#a575f9"/>
<rect x="218.40" y="972.40" width="20.65" height="54.80" fill="#bb95fb"/>
<rect x="238.90" y="986.90" width="20.25" height="40.30" fill="#ceb2fc"/>
<rect x="259.00" y="989.70" width="20.65" height="37.50" fill="#dfcdfd"/>
<rect x="279.50" y="999.20" width="20.45" height="28.00" fill="#ece2fe"/>
<path d="M208.35 919.60 V940.00 M203.15 919.60 H213.55 M203.15 940.00 H213.55" stroke="#0a0a0a" stroke-width="1.6" fill="none"/>
<path d="M228.65 969.60 V974.80 M223.45 969.60 H233.85 M223.45 974.80 H233.85" stroke="#0a0a0a" stroke-width="1.6" fill="none"/>
<path d="M248.95 982.80 V989.00 M243.75 982.80 H254.15 M243.75 989.00 H254.15" stroke="#0a0a0a" stroke-width="1.6" fill="none"/>
<line x1="264.35" y1="989.70" x2="274.15" y2="989.70" stroke="#0a0a0a" stroke-width="2.4"/>
<path d="M289.65 996.70 V1001.50 M284.45 996.70 H294.85 M284.45 1001.50 H294.85" stroke="#0a0a0a" stroke-width="1.6" fill="none"/>
<text x="247.40" y="1049.29" font-size="17" text-anchor="middle" fill="#111">dACC</text>
<text x="280.60" y="868.93" font-size="13.2" text-anchor="middle" fill="#111">n = 1419</text>
<text x="280.60" y="884.83" font-size="13.2" text-anchor="middle" fill="#111">neurons</text>
<rect x="330.30" y="905.30" width="20.35" height="121.90" fill="#8987f7"/>
<rect x="350.50" y="969.60" width="20.65" height="57.60" fill="#a4a3f9"/>
<rect x="371.00" y="970.60" width="20.25" height="56.60" fill="#bbbbfb"/>
<rect x="391.10" y="990.40" width="20.65" height="36.80" fill="#d2d2fd"/>
<rect x="411.60" y="990.40" width="20.25" height="36.80" fill="#e6e6fe"/>
<path d="M340.40 875.10 V935.90 M335.20 875.10 H345.60 M335.20 935.90 H345.60" stroke="#0a0a0a" stroke-width="1.6" fill="none"/>
<path d="M360.75 957.80 V980.00 M355.55 957.80 H365.95 M355.55 980.00 H365.95" stroke="#0a0a0a" stroke-width="1.6" fill="none"/>
<path d="M381.05 952.60 V988.70 M375.85 952.60 H386.25 M375.85 988.70 H386.25" stroke="#0a0a0a" stroke-width="1.6" fill="none"/>
<path d="M401.35 986.30 V993.20 M396.15 986.30 H406.55 M396.15 993.20 H406.55" stroke="#0a0a0a" stroke-width="1.6" fill="none"/>
<path d="M421.65 974.10 V1005.30 M416.45 974.10 H426.85 M416.45 1005.30 H426.85" stroke="#0a0a0a" stroke-width="1.6" fill="none"/>
<text x="381.50" y="1049.29" font-size="17" text-anchor="middle" fill="#111">SMA</text>
<text x="414.00" y="868.93" font-size="13.2" text-anchor="middle" fill="#111">n = 280</text>
<text x="414.00" y="884.83" font-size="13.2" text-anchor="middle" fill="#111">neurons</text>
<rect x="462.60" y="905.70" width="20.35" height="121.50" fill="#30dc40"/>
<rect x="482.80" y="975.80" width="20.25" height="51.40" fill="#5ae46a"/>
<rect x="502.90" y="971.30" width="20.35" height="55.90" fill="#82ec8e"/>
<rect x="523.10" y="992.50" width="20.25" height="34.70" fill="#aaf2b2"/>
<rect x="543.20" y="988.70" width="20.65" height="38.50" fill="#d0f8d4"/>
<path d="M472.70 881.40 V930.70 M467.50 881.40 H477.90 M467.50 930.70 H477.90" stroke="#0a0a0a" stroke-width="1.6" fill="none"/>
<path d="M492.85 973.40 V976.90 M487.65 973.40 H498.05 M487.65 976.90 H498.05" stroke="#0a0a0a" stroke-width="1.6" fill="none"/>
<path d="M513.00 969.60 V972.40 M507.80 969.60 H518.20 M507.80 972.40 H518.20" stroke="#0a0a0a" stroke-width="1.6" fill="none"/>
<path d="M533.15 988.70 V996.00 M527.95 988.70 H538.35 M527.95 996.00 H538.35" stroke="#0a0a0a" stroke-width="1.6" fill="none"/>
<line x1="548.55" y1="988.70" x2="558.35" y2="988.70" stroke="#0a0a0a" stroke-width="1.7"/>
<text x="515.20" y="1049.29" font-size="17" text-anchor="middle" fill="#111">vlPFC</text>
<text x="544.20" y="868.93" font-size="13.2" text-anchor="middle" fill="#111">n = 1756</text>
<text x="544.20" y="884.83" font-size="13.2" text-anchor="middle" fill="#111">neurons</text>
<rect x="594.60" y="912.30" width="20.25" height="114.90" fill="#60fcc0"/>
<rect x="614.70" y="979.30" width="20.25" height="47.90" fill="#82fccd"/>
<rect x="634.80" y="978.60" width="20.65" height="48.60" fill="#a2fdd9"/>
<rect x="655.30" y="997.70" width="20.35" height="29.50" fill="#c2fee5"/>
<rect x="675.50" y="996.00" width="20.25" height="31.20" fill="#dcfef0"/>
<path d="M604.65 881.40 V943.50 M599.45 881.40 H609.85 M599.45 943.50 H609.85" stroke="#0a0a0a" stroke-width="1.6" fill="none"/>
<path d="M624.75 973.10 V984.90 M619.55 973.10 H629.95 M619.55 984.90 H629.95" stroke="#0a0a0a" stroke-width="1.6" fill="none"/>
<path d="M645.05 976.90 V980.00 M639.85 976.90 H650.25 M639.85 980.00 H650.25" stroke="#0a0a0a" stroke-width="1.6" fill="none"/>
<path d="M665.40 994.20 V1000.10 M660.20 994.20 H670.60 M660.20 1000.10 H670.60" stroke="#0a0a0a" stroke-width="1.6" fill="none"/>
<path d="M685.55 991.50 V1000.10 M680.35 991.50 H690.75 M680.35 1000.10 H690.75" stroke="#0a0a0a" stroke-width="1.6" fill="none"/>
<text x="646.80" y="1049.29" font-size="17" text-anchor="middle" fill="#111">dlPFC</text>
<text x="679.10" y="868.93" font-size="13.2" text-anchor="middle" fill="#111">n = 1591</text>
<text x="679.10" y="884.83" font-size="13.2" text-anchor="middle" fill="#111">neurons</text>
<rect x="726.50" y="929.70" width="20.25" height="97.50" fill="#3890e0"/>
<rect x="746.60" y="978.30" width="20.35" height="48.90" fill="#62a9e8"/>
<rect x="766.80" y="979.30" width="20.25" height="47.90" fill="#8ac1f0"/>
<rect x="786.90" y="995.60" width="20.35" height="31.60" fill="#b2d5f5"/>
<rect x="807.10" y="996.00" width="20.55" height="31.20" fill="#d4e8fa"/>
<path d="M736.55 899.80 V959.50 M731.35 899.80 H741.75 M731.35 959.50 H741.75" stroke="#0a0a0a" stroke-width="1.6" fill="none"/>
<path d="M756.70 975.80 V980.00 M751.50 975.80 H761.90 M751.50 980.00 H761.90" stroke="#0a0a0a" stroke-width="1.6" fill="none"/>
<path d="M776.85 974.80 V983.80 M771.65 974.80 H782.05 M771.65 983.80 H782.05" stroke="#0a0a0a" stroke-width="1.6" fill="none"/>
<line x1="792.10" y1="995.60" x2="801.90" y2="995.60" stroke="#0a0a0a" stroke-width="2.8"/>
<line x1="812.40" y1="996.00" x2="822.20" y2="996.00" stroke="#0a0a0a" stroke-width="2.8"/>
<text x="783.00" y="1049.29" font-size="17" text-anchor="middle" fill="#111">PMd</text>
<text x="809.10" y="868.93" font-size="13.2" text-anchor="middle" fill="#111">n = 2017</text>
<text x="809.10" y="884.83" font-size="13.2" text-anchor="middle" fill="#111">neurons</text>
<path d="M51.9 855.1 V1028.2 H846.2" stroke="#1c1c1c" stroke-width="1.2" fill="none"/>
<line x1="52.3" y1="1008.8" x2="848.7" y2="1006.0" stroke="#fa1420" stroke-width="1.5"/>
<text x="34.50" y="886.19" font-size="17" text-anchor="middle" fill="#111">30</text>
<text x="34.50" y="961.59" font-size="17" text-anchor="middle" fill="#111">15</text>
<text x="40.60" y="1035.29" font-size="17" text-anchor="middle" fill="#111">0</text>
<text x="9.50" y="957.44" font-size="18" text-anchor="middle" fill="#111" transform="rotate(-90.00 9.50 951.00)">neurons tuned (%)</text>
<text x="76.90" y="899.73" font-size="13.2" text-anchor="middle" fill="#111">XYZ</text>
<text x="102.70" y="915.73" font-size="13.2" text-anchor="middle" fill="#111">XY</text>
<text x="118.40" y="930.93" font-size="13.2" text-anchor="middle" fill="#111">Z</text>
<text x="139.80" y="943.43" font-size="13.2" text-anchor="middle" fill="#111">XY</text>
<text x="140.10" y="958.33" font-size="13.2" text-anchor="middle" fill="#111">only</text>
<text x="165.30" y="956.93" font-size="13.2" text-anchor="middle" fill="#111">Z</text>
<text x="165.30" y="972.53" font-size="13.2" text-anchor="middle" fill="#111">only</text>
</g>
</svg></body></html>
